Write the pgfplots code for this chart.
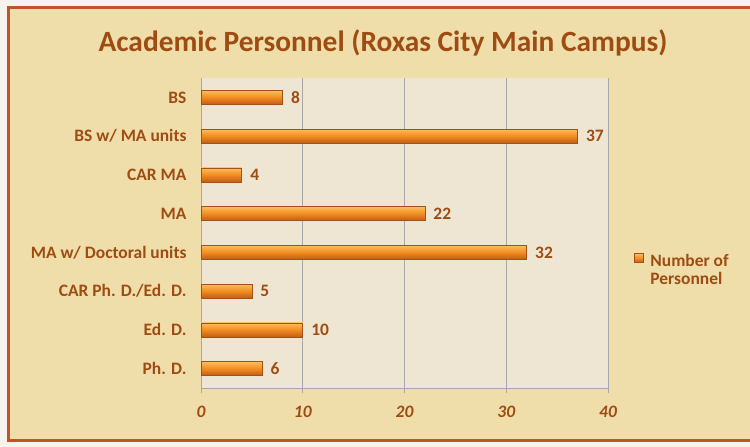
\documentclass[border=0pt]{standalone}
\usepackage{fontspec}
\setmainfont{Carlito}
\usepackage{pgfplots}
\pgfplotsset{compat=1.18}
\definecolor{pagebg}{RGB}{246,243,238}
\definecolor{parch}{RGB}{239,222,170}
\definecolor{plotbg}{RGB}{238,230,210}
\definecolor{frame}{RGB}{192,84,40}
\definecolor{txtbrown}{RGB}{158,76,18}
\definecolor{barlight}{RGB}{250,190,95}
\definecolor{barmid}{RGB}{242,140,32}
\definecolor{bardark}{RGB}{190,92,25}
\definecolor{baredge}{RGB}{165,80,22}
\definecolor{gridgray}{RGB}{168,168,168}
\begin{document}
\begin{tikzpicture}[x=1bp,y=1bp]
\clip (0,0) rectangle (750,447);
\fill[pagebg] (0,0) rectangle (750,447);
\fill[parch] (8,6) rectangle (760,439);
\draw[frame, line width=3bp] (8,6) rectangle (760,439);
\node[font=\bfseries\fontsize{29.5}{34}\selectfont, text=txtbrown] at (383,404) {Academic Personnel (Roxas City Main Campus)};
\begin{axis}[
  at={(201bp,59bp)}, anchor=south west,
  scale only axis, width=407bp, height=310bp,
  xmin=0, xmax=40, ymin=-0.5, ymax=7.5,
  xbar, bar width=14bp, bar shift=0pt,
  axis background/.style={fill=plotbg},
  axis x line*=bottom, axis y line*=left,
  axis line style={gridgray, line width=0.8bp},
  xtick={0,10,20,30,40},
  xmajorgrids, major grid style={gridgray, line width=0.8bp},
  ytick={0,1,2,3,4,5,6,7},
  yticklabels={Ph. D., Ed. D., CAR Ph. D./Ed. D., MA w/ Doctoral units, MA, CAR MA, BS w/ MA units, BS},
  minor ytick={-0.5,0.5,1.5,2.5,3.5,4.5,5.5,6.5,7.5},
  tick align=outside,
  major tick length=5bp, minor tick length=5bp,
  ytick style={draw=none},
  minor tick style={gridgray, line width=0.8bp},
  xtick style={gridgray, line width=0.8bp},
  /pgf/number format/assume math mode=true,
  xticklabel style={font=\bfseries\itshape\fontsize{17.5}{20}\selectfont, text=txtbrown, yshift=-10bp},
  yticklabel style={font=\bfseries\fontsize{17.5}{20}\selectfont, text=txtbrown, xshift=-6bp},
  nodes near coords,
  every node near coord/.append style={font=\bfseries\fontsize{17.5}{20}\selectfont, text=txtbrown, xshift=5bp},
  legend style={at={(rel axis cs:1.063,0.411)}, anchor=west, draw=none, fill=none,
    font=\bfseries\fontsize{17.5}{20}\selectfont, text=txtbrown, inner sep=0pt},
  legend cell align=left,
  legend image code/.code={\draw[baredge, fill=barmid] (0bp,-2bp) rectangle (9bp,7bp);},
  barsty/.style={draw=baredge, line width=0.6bp, top color=barlight, bottom color=bardark, middle color=barmid},
]
\addplot[barsty] coordinates {(6,0)};
\addlegendentry{\begin{tabular}[t]{@{\hspace{5bp}}l@{}}Number of\\[-2bp]Personnel\end{tabular}}
\addplot[barsty, forget plot] coordinates {(10,1)};
\addplot[barsty, forget plot] coordinates {(5,2)};
\addplot[barsty, forget plot] coordinates {(32,3)};
\addplot[barsty, forget plot] coordinates {(22,4)};
\addplot[barsty, forget plot] coordinates {(4,5)};
\addplot[barsty, forget plot] coordinates {(37,6)};
\addplot[barsty, forget plot] coordinates {(8,7)};
\end{axis}
\end{tikzpicture}
\end{document}
